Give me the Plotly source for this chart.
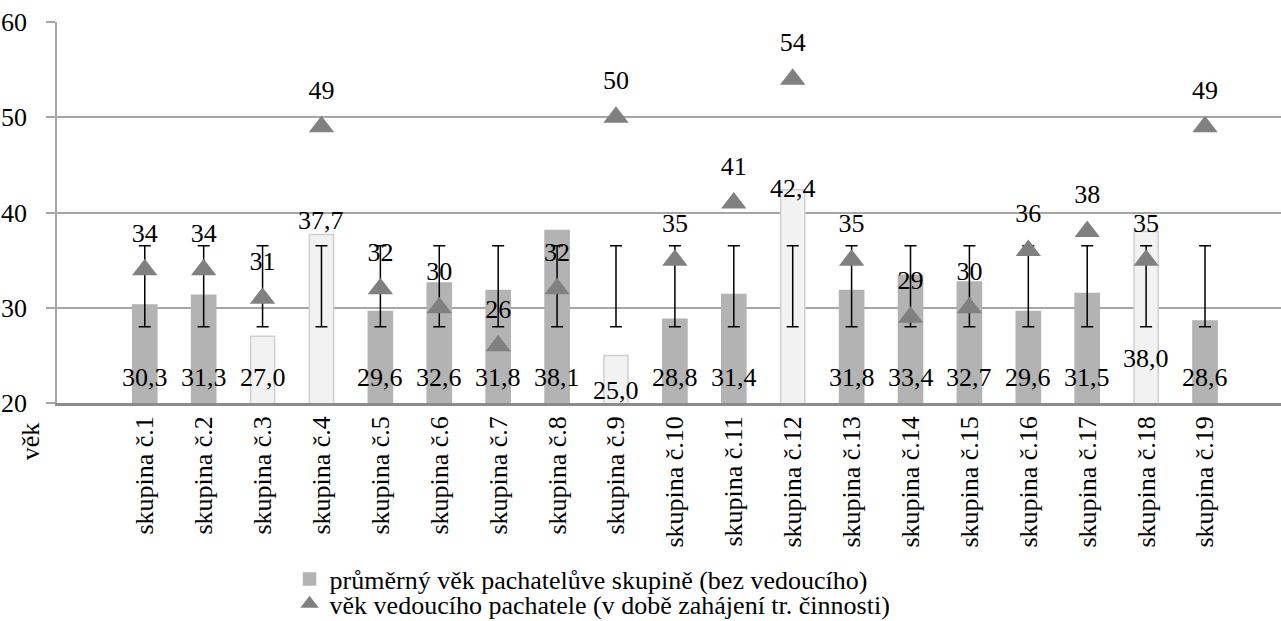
import plotly.graph_objects as go

categories = [f"skupina č.{i}" for i in range(1, 20)]

avg_age = [30.3, 31.3, 27.0, 37.7, 29.6, 32.6, 31.8, 38.1, 25.0, 28.8,
           31.4, 42.4, 31.8, 33.4, 32.7, 29.6, 31.5, 38.0, 28.6]

leader_age = [34, 34, 31, 49, 32, 30, 26, 32, 50, 35,
              41, 54, 35, 29, 30, 36, 38, 35, 49]

err_low = [28.0, 28.0, 28.0, 28.0, 28.0, 28.0, 28.0, 28.0, 28.0, 28.0,
           28.0, 28.0, 28.0, 28.0, 28.0, 28.0, 28.0, 28.0, 28.0]
err_high = [36.5, 36.5, 36.5, 36.5, 36.5, 36.5, 36.5, 36.5, 36.5, 36.5,
            36.5, 36.5, 36.5, 36.5, 36.5, 36.5, 36.5, 36.5, 36.5]

y_ticks = [20, 30, 40, 50, 60]
Y_RANGE = [20, 60]

# ---- styling (not data) ----
light_bars = {3, 4, 9, 12, 18}
outside_labels = {4: 14, 12: 1}          # label above bar top: pixel shift
base_label_shift = {9: 13, 18: 45}       # label near base: pixel shift (default 26)

FONT = "Liberation Serif"
FS = 26
DARK = "#b3b3b3"
LIGHT = "#f2f2f2"

bar_colors = [LIGHT if (i + 1) in light_bars else DARK for i in range(len(categories))]
bar_lines = ["#d0d0d0" if (i + 1) in light_bars else DARK for i in range(len(categories))]

err_mid = [(lo + hi) / 2 for lo, hi in zip(err_low, err_high)]
err_plus = [hi - m for hi, m in zip(err_high, err_mid)]
err_minus = [m - lo for lo, m in zip(err_low, err_mid)]

fig = go.Figure()

fig.add_trace(go.Bar(
    x=categories, y=avg_age,
    name="průměrný věk pachatelůve skupině (bez vedoucího)",
    marker=dict(color=bar_colors, line=dict(color=bar_lines, width=1.5)),
    width=0.41, legend="legend",
    hoverinfo="skip",
))

# labels of leader ages (drawn below error bars)
fig.add_trace(go.Scatter(
    x=categories, y=leader_age, mode="markers+text",
    marker=dict(size=33, opacity=0),
    text=[str(v) for v in leader_age], textposition="top center",
    textfont=dict(family=FONT, size=FS, color="black"),
    showlegend=False, hoverinfo="skip", cliponaxis=False,
))

fig.add_trace(go.Scatter(
    x=categories, y=err_mid, mode="markers",
    marker=dict(size=1, opacity=0),
    error_y=dict(type="data", symmetric=False, array=err_plus, arrayminus=err_minus,
                 color="black", thickness=1.5, width=6),
    showlegend=False, hoverinfo="skip",
))

fig.add_trace(go.Scatter(
    x=categories, y=leader_age, mode="markers",
    name="věk vedoucího pachatele (v době zahájení tr. činnosti)",
    marker=dict(symbol="triangle-up", size=22, color="#808080"),
    legend="legend2",
    hoverinfo="skip", cliponaxis=False,
))

# bar value labels
for i, (cat, v) in enumerate(zip(categories, avg_age)):
    n = i + 1
    label = f"{v:.1f}".replace(".", ",")
    if n in outside_labels:
        y, shift = v, outside_labels[n]
    else:
        y, shift = Y_RANGE[0], base_label_shift.get(n, 26)
    fig.add_annotation(
        x=cat, y=y, xref="x", yref="y", text=label, showarrow=False,
        yshift=shift, xanchor="center", yanchor="middle",
        font=dict(family=FONT, size=FS, color="black"),
    )

legend_common = dict(
    xanchor="left", yanchor="middle", orientation="v",
    font=dict(family=FONT, size=FS, color="black"),
    itemwidth=30, bgcolor="rgba(0,0,0,0)", borderwidth=0,
)

fig.update_layout(
    width=1281, height=621,
    margin=dict(l=57, r=0, t=22, b=218, autoexpand=False),
    paper_bgcolor="white", plot_bgcolor="white",
    font=dict(family=FONT, size=FS, color="black"),
    showlegend=True,
    legend=dict(x=0.190, y=-0.462, **legend_common),
    legend2=dict(x=0.190, y=-0.527, **legend_common),
)

fig.update_xaxes(
    type="category", range=[-1.49, 19.29],
    tickangle=-90, tickfont=dict(family=FONT, size=FS, color="black"),
    showgrid=False, showline=True, linecolor="#8c8c8c", linewidth=2.5,
    ticks="", zeroline=False,
)

fig.update_yaxes(
    range=Y_RANGE, tickvals=y_ticks, ticktext=[str(t) for t in y_ticks],
    tickfont=dict(family=FONT, size=FS, color="black"),
    showgrid=True, gridcolor="#a6a6a6", gridwidth=1.5,
    showline=True, linecolor="#a6a6a6", linewidth=1.5,
    ticks="outside", ticklen=9, tickcolor="#a6a6a6", tickwidth=1.5,
    ticklabelstandoff=14, zeroline=False,
)

fig.add_annotation(
    text="věk", xref="paper", yref="paper",
    x=-0.022, y=-0.1, xanchor="center", yanchor="middle",
    textangle=-90, showarrow=False,
    font=dict(family=FONT, size=FS, color="black"),
)

fig.write_html(
    "out.html",
    config={"displayModeBar": False},
    post_script="document.body.style.margin='0';document.body.style.padding='0';",
)
